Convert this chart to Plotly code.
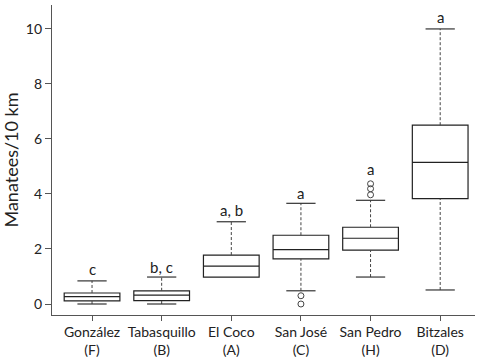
import plotly.graph_objects as go

sites = ["González<br>(F)", "Tabasquillo<br>(B)", "El Coco<br>(A)", "San José<br>(C)", "San Pedro<br>(H)", "Bitzales<br>(D)"]
lower = [0.0, 0.0, 0.98, 0.48, 0.98, 0.51]
q1 = [0.11, 0.12, 0.98, 1.64, 1.96, 3.83]
median = [0.27, 0.32, 1.38, 1.98, 2.39, 5.15]
q3 = [0.40, 0.48, 1.78, 2.50, 2.79, 6.50]
upper = [0.84, 0.98, 2.99, 3.66, 3.77, 10.0]
outliers = [[], [], [], [0.30, 0.0], [3.97, 4.19, 4.37], []]
letters = ["c", "b, c", "a, b", "a", "a", "a"]
letter_y = [1.27, 1.36, 3.42, 4.05, 4.9, 10.45]

FONT = "Lato, Roboto, sans-serif"
INK = "#222222"
pos = list(range(len(sites)))

fig = go.Figure()
for i in pos:
    fig.add_trace(go.Box(
        x=[i], q1=[q1[i]], median=[median[i]], q3=[q3[i]],
        lowerfence=[q1[i]], upperfence=[q3[i]],
        width=0.8, whiskerwidth=0, fillcolor="white",
        line=dict(color=INK, width=1.2), showlegend=False, hoverinfo="skip"))
    # dashed whiskers
    fig.add_trace(go.Scatter(x=[i, i], y=[q3[i], upper[i]], mode="lines",
                             line=dict(color="#444", width=1, dash="3px,2px"), showlegend=False))
    fig.add_trace(go.Scatter(x=[i, i], y=[lower[i], q1[i]], mode="lines",
                             line=dict(color="#444", width=1, dash="3px,2px"), showlegend=False))
    # caps
    for v in (upper[i], lower[i]):
        if v != q1[i]:
            fig.add_trace(go.Scatter(x=[i - 0.21, i + 0.21], y=[v, v], mode="lines",
                                     line=dict(color="#333", width=1.2), showlegend=False))
    if outliers[i]:
        fig.add_trace(go.Scatter(x=[i] * len(outliers[i]), y=outliers[i], mode="markers",
                                 marker=dict(symbol="circle-open", size=6, color="#444",
                                             line=dict(width=1)), showlegend=False))
    fig.add_annotation(x=i, y=letter_y[i], text=letters[i], showarrow=False,
                       font=dict(family=FONT, size=15, color=INK), yanchor="middle")

fig.update_layout(
    width=483, height=361,
    margin=dict(l=52, r=8, t=5, b=46),
    paper_bgcolor="white", plot_bgcolor="white",
    font=dict(family=FONT, size=13, color=INK),
)
fig.update_xaxes(range=[-0.575, 5.5], tickvals=pos, ticktext=sites, automargin=False,
                 showgrid=False, zeroline=False, showline=True, linecolor="#555", linewidth=1.2,
                 ticks="outside", ticklen=5, tickcolor="#555", tickfont=dict(size=14),
                 ticklabelstandoff=-1)
fig.update_yaxes(range=[-0.4, 10.87], tickvals=[0, 2, 4, 6, 8, 10], automargin=False,
                 showgrid=False, zeroline=False, showline=True, linecolor="#555", linewidth=1.2,
                 ticks="outside", ticklen=6, tickcolor="#555", tickfont=dict(size=14),
                 title=dict(text="Manatees/10 km", font=dict(size=18), standoff=8))

fig.write_html("out.html", config={"displayModeBar": False},
               post_script="document.body.style.margin='0';")
